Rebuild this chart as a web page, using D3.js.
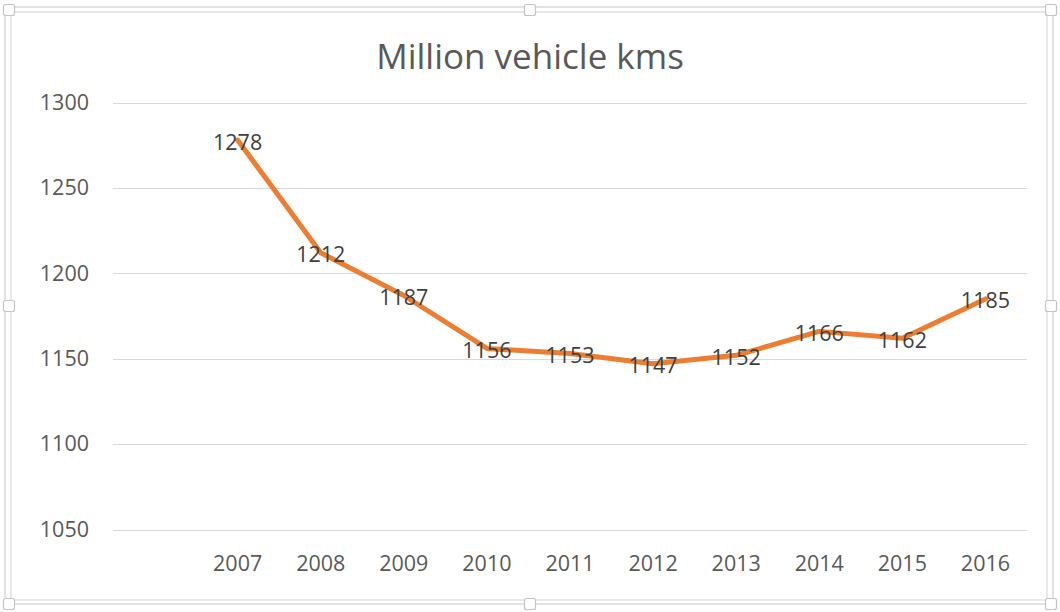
<!DOCTYPE html>
<html>
<head>
<meta charset="utf-8">
<script src="https://cdn.jsdelivr.net/npm/d3@7"></script>
<style>
  html, body { margin: 0; padding: 0; background: #fff; }
  svg { display: block; }
</style>
</head>
<body>
<div class="chart"></div>
<script>
// data
const years = ['', '2007', '2008', '2009', '2010', '2011', '2012', '2013', '2014', '2015', '2016'];
const values = [null, 1278, 1212, 1187, 1156, 1153, 1147, 1152, 1166, 1162, 1185];
const yTicks = [1050, 1100, 1150, 1200, 1250, 1300];
const title = 'Million vehicle kms';

const W = 1060, H = 612;
const font = '"Open Sans", "Noto Sans", sans-serif';

const svg = d3.select('.chart')
  .append('svg')
  .attr('width', W)
  .attr('height', H);

// chart frame (outer selection border + chart area border)
svg.append('rect')
  .attr('x', 5).attr('y', 7)
  .attr('width', 1048).attr('height', 597)
  .attr('fill', 'none')
  .attr('stroke', '#cfcfcf')
  .attr('stroke-width', 1.2);
svg.append('rect')
  .attr('x', 11).attr('y', 12)
  .attr('width', 1036).attr('height', 588)
  .attr('fill', '#fff')
  .attr('stroke', '#d9d9d9')
  .attr('stroke-width', 1.2);

// sizing handles
const handles = [
  [9, 10], [530, 10], [1051, 10],
  [9, 306], [1051, 306],
  [9, 604], [530, 604], [1051, 604]
];
svg.append('g')
  .selectAll('rect')
  .data(handles)
  .enter()
  .append('rect')
  .attr('x', d => d[0] - 5.5)
  .attr('y', d => d[1] - 5.5)
  .attr('width', 11)
  .attr('height', 11)
  .attr('rx', 2)
  .attr('fill', '#fff')
  .attr('stroke', '#c4c4c4')
  .attr('stroke-width', 1.2);

// scales
const x = d3.scaleBand()
  .domain(years)
  .range([113, 1027]);

const y = d3.scaleLinear()
  .domain([1050, 1300])
  .range([529.5, 102.5]);

// title
svg.append('text')
  .attr('x', 530)
  .attr('y', 69)
  .attr('text-anchor', 'middle')
  .attr('font-family', font)
  .attr('font-size', 35)
  .attr('fill', '#595959')
  .text(title);

// gridlines
svg.append('g')
  .selectAll('line')
  .data(yTicks)
  .enter()
  .append('line')
  .attr('x1', 113)
  .attr('x2', 1027)
  .attr('y1', d => Math.round(y(d)) + 0.5)
  .attr('y2', d => Math.round(y(d)) + 0.5)
  .attr('stroke', '#d9d9d9')
  .attr('stroke-width', 1);

// y axis labels
const yAxis = svg.append('g')
  .attr('transform', 'translate(89,0)')
  .call(d3.axisLeft(y).tickValues(yTicks).tickFormat(d3.format('d')).tickSize(0).tickPadding(0));
yAxis.select('.domain').remove();
yAxis.selectAll('text')
  .attr('font-family', font)
  .attr('font-size', 21.5)
  .attr('fill', '#595959');

// x axis labels
const xAxis = svg.append('g')
  .attr('transform', 'translate(0,563)')
  .call(d3.axisBottom(x).tickSize(0).tickPadding(0));
xAxis.select('.domain').remove();
xAxis.selectAll('text')
  .attr('dy', '0.35em')
  .attr('font-family', font)
  .attr('font-size', 21.5)
  .attr('fill', '#595959');

// series
const points = years
  .map((yr, i) => ({ yr, v: values[i] }))
  .filter(d => d.v != null);

const line = d3.line()
  .x(d => x(d.yr) + x.bandwidth() / 2)
  .y(d => y(d.v));

svg.append('path')
  .datum(points)
  .attr('d', line)
  .attr('fill', 'none')
  .attr('stroke', '#ed7d31')
  .attr('stroke-width', 5)
  .attr('stroke-linejoin', 'round')
  .attr('stroke-linecap', 'round');

// data labels
svg.append('g')
  .selectAll('text')
  .data(points)
  .enter()
  .append('text')
  .attr('x', d => x(d.yr) + x.bandwidth() / 2)
  .attr('y', d => y(d.v) + 2)
  .attr('dy', '0.35em')
  .attr('text-anchor', 'middle')
  .attr('font-family', font)
  .attr('font-size', 21.5)
  .attr('fill', '#404040')
  .text(d => d.v);
</script>
</body>
</html>
